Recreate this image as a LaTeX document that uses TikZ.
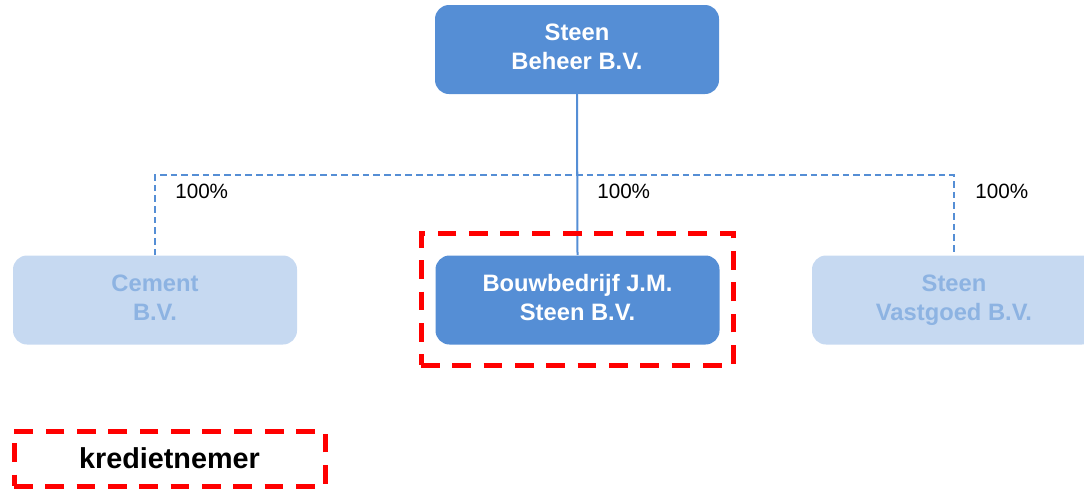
\documentclass[tikz,border=0pt]{standalone}
\usepackage{fontspec}
\setmainfont{Liberation Sans}
\definecolor{boxblue}{HTML}{558ED5}
\definecolor{lightfill}{HTML}{C6D9F1}
\definecolor{lighttext}{HTML}{8DB3E2}
\definecolor{redline}{HTML}{FF0000}
\newcommand{\twolines}[2]{\raisebox{1.5pt}{\begin{tabular}{@{}c@{}}#1\\#2\end{tabular}}}
\begin{document}
\begin{tikzpicture}[x=0.75pt,y=-0.75pt,
  company/.style={rectangle,rounded corners=10.5pt,minimum width=213pt,minimum height=66.75pt,inner sep=0pt,align=center,font=\fontsize{17.8}{21.75}\selectfont\bfseries},
  active/.style={company,fill=boxblue,text=white},
  inactive/.style={company,fill=lightfill,text=lighttext},
  reddash/.style={rectangle,draw=redline,line width=3.75pt,dash pattern=on 14pt off 9.5pt,inner sep=0pt},
  pct/.style={font=\fontsize{15.5}{18}\selectfont,anchor=west,inner sep=0pt},
  own/.style={draw=boxblue,line width=1.5pt},
  ownd/.style={own,dash pattern=on 5pt off 3pt}]
\useasboundingbox (0,0) rectangle (1084,490);
\node[active] (top) at (577,49.5) {\twolines{Steen}{Beheer B.V.}};
\node[inactive] (cement) at (155,300) {\twolines{Cement}{B.V.}};
\node[active] (bouw) at (577.5,300) {\twolines{Bouwbedrijf J.M.}{Steen B.V.}};
\node[inactive] (vast) at (954,300) {\twolines{Steen}{Vastgoed B.V.}};
\coordinate (hub) at (577,175);
\draw[ownd] (top.south) -- (hub);
\draw[ownd] (cement.north) -- (cement.north |- hub) -- (vast.north |- hub) -- (vast.north);
\draw[own] (top.south) -- (bouw.north);
\node[pct] (p1) at (175,191) {100\%};
\node[pct] (p2) at (597,191) {100\%};
\node[pct] (p3) at (975,191) {100\%};
\node[reddash,minimum width=234pt,minimum height=99pt] (focus) at (577,299) {};
\node[reddash,minimum width=233.25pt,minimum height=41.25pt,font=\fontsize{21.6}{24}\selectfont\bfseries] (legend) at (169.5,458.5) {kredietnemer};
\end{tikzpicture}
\end{document}
